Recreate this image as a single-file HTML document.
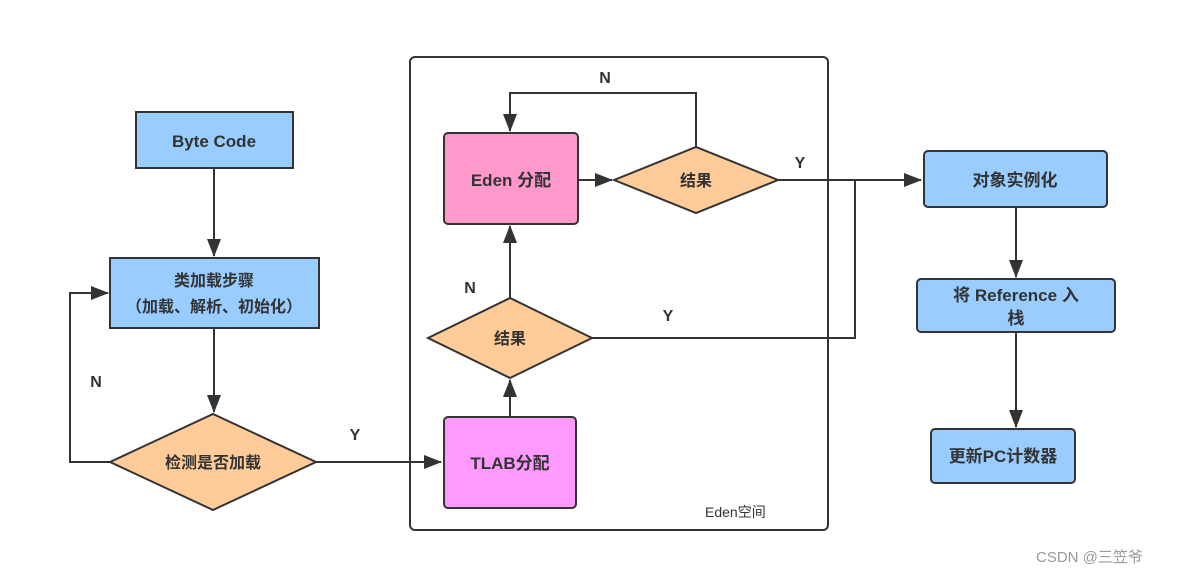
<!DOCTYPE html>
<html><head><meta charset="utf-8"><style>
body{margin:0;background:#fff;}
svg text{font-family:"Liberation Sans","Noto Sans CJK SC",sans-serif;font-weight:bold;fill:#333;}
</style></head><body>
<svg width="1183" height="575" viewBox="0 0 1183 575" xmlns="http://www.w3.org/2000/svg">
<defs><marker id="a" markerWidth="10" markerHeight="10" refX="9" refY="5" orient="auto" markerUnits="userSpaceOnUse"><path d="M0,0 L10,5 L0,10 z" fill="#333"/></marker>
<marker id="b" markerWidth="18" markerHeight="14" refX="17" refY="7" orient="auto" markerUnits="userSpaceOnUse"><path d="M0,0 L18,7 L0,14 z" fill="#333"/></marker></defs>
<g stroke="#333" stroke-width="2" fill="none">
<rect x="410" y="57" width="418" height="473" rx="5"/>
<line x1="214" y1="168" x2="214" y2="256" marker-end="url(#b)"/>
<line x1="214" y1="328" x2="214" y2="412" marker-end="url(#b)"/>
<polyline points="110,462 70,462 70,293 108,293" marker-end="url(#b)"/>
<line x1="316" y1="462" x2="441" y2="462" marker-end="url(#b)"/>
<line x1="510" y1="417" x2="510" y2="380" marker-end="url(#b)"/>
<line x1="510" y1="298" x2="510" y2="226" marker-end="url(#b)"/>
<line x1="578" y1="180" x2="612" y2="180" marker-end="url(#b)"/>
<polyline points="696,147 696,93 510,93 510,131" marker-end="url(#b)"/>
<line x1="778" y1="180" x2="921" y2="180" marker-end="url(#b)"/>
<polyline points="592,338 855,338 855,180"/>
<line x1="1016" y1="207" x2="1016" y2="277" marker-end="url(#b)"/>
<line x1="1016" y1="332" x2="1016" y2="427" marker-end="url(#b)"/>
</g>
<g stroke="#333" stroke-width="2">
<rect x="136" y="112" width="157" height="56" fill="#99ccff"/>
<rect x="110" y="258" width="209" height="70" fill="#99ccff"/>
<polygon points="110,462 213,414 316,462 213,510" fill="#ffcc99"/>
<rect x="444" y="417" width="132" height="91" rx="4" fill="#ff99ff"/>
<rect x="444" y="133" width="134" height="91" rx="4" fill="#ff99cc"/>
<polygon points="428,338 510,298 592,338 510,378" fill="#ffcc99"/>
<polygon points="614,180 696,147 778,180 696,213" fill="#ffcc99"/>
<rect x="924" y="151" width="183" height="56" rx="4" fill="#99ccff"/>
<rect x="917" y="279" width="198" height="53" rx="4" fill="#99ccff"/>
<rect x="931" y="429" width="144" height="54" rx="4" fill="#99ccff"/>
</g>
<g font-size="17" text-anchor="middle">
<text x="214" y="147">Byte Code</text>
<text x="214" y="286" font-size="16">类加载步骤</text>
<text x="214" y="312" font-size="16">（加载、解析、初始化）</text>
<text x="213" y="468" font-size="16">检测是否加载</text>
<text x="510" y="469">TLAB分配</text>
<text x="510" y="344" font-size="16">结果</text>
<text x="511" y="186">Eden 分配</text>
<text x="696" y="186" font-size="16">结果</text>
<text x="1015" y="186">对象实例化</text>
<text x="1016" y="301">将 Reference 入</text>
<text x="1016" y="324">栈</text>
<text x="1003" y="462">更新PC计数器</text>
<text x="96" y="387" font-size="16">N</text>
<text x="355" y="440" font-size="16">Y</text>
<text x="470" y="293" font-size="16">N</text>
<text x="605" y="83" font-size="16">N</text>
<text x="800" y="168" font-size="16">Y</text>
<text x="668" y="321" font-size="16">Y</text>
</g>
<text x="705" y="517" font-size="14" style="font-weight:normal">Eden空间</text>
<text x="1036" y="562" font-size="15" style="font-weight:normal;fill:#999">CSDN @三笠爷</text>
</svg>
</body></html>
